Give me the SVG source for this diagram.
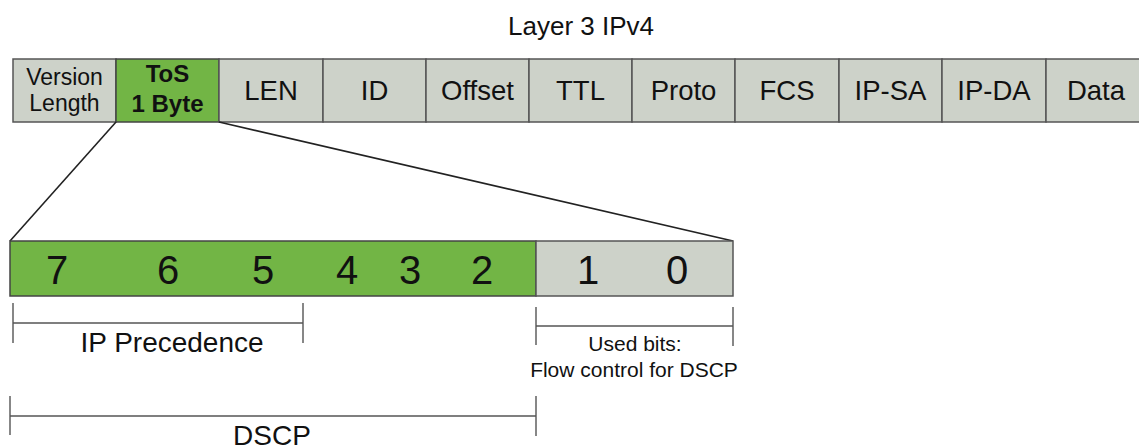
<svg xmlns="http://www.w3.org/2000/svg" width="1139" height="446" viewBox="0 0 1139 446">
<style>
text{font-family:"Liberation Sans",Arial,sans-serif;fill:#111;text-anchor:middle}
.cell{fill:#cdd2c9;stroke:#555;stroke-width:1.5}
.green{fill:#72b545;stroke:#444;stroke-width:1.5}
.f{font-size:27.5px}
.s{font-size:23px}
.b{font-size:24px;font-weight:bold}
.d{font-size:40px}
.ln{stroke:#222;stroke-width:1.6;fill:none}
.br{stroke:#555;stroke-width:1.4;fill:none}
</style>
<rect width="1139" height="446" fill="#fff"/>
<text x="581" y="35" style="font-size:26px">Layer 3 IPv4</text>
<g id="row">
<g id="ver"><rect class="cell" x="13" y="59" width="103" height="63"/><text class="s" x="64.5" y="85">Version</text><text class="s" x="64.5" y="111">Length</text></g>
<g id="tos"><rect class="green" x="116" y="59" width="103" height="63"/><text class="b" x="167.5" y="82">ToS</text><text class="b" x="167.5" y="112">1 Byte</text></g>
<g id="len"><rect class="cell" x="219" y="59" width="104" height="63"/><text class="f" x="271" y="100">LEN</text></g>
<g id="id"><rect class="cell" x="323" y="59" width="103" height="63"/><text class="f" x="374.5" y="100">ID</text></g>
<g id="offset"><rect class="cell" x="426" y="59" width="103" height="63"/><text class="f" x="477.5" y="100">Offset</text></g>
<g id="ttl"><rect class="cell" x="529" y="59" width="103" height="63"/><text class="f" x="580.5" y="100">TTL</text></g>
<g id="proto"><rect class="cell" x="632" y="59" width="103" height="63"/><text class="f" x="683.5" y="100">Proto</text></g>
<g id="fcs"><rect class="cell" x="735" y="59" width="104" height="63"/><text class="f" x="787" y="100">FCS</text></g>
<g id="ipsa"><rect class="cell" x="839" y="59" width="103" height="63"/><text class="f" x="890.5" y="100">IP-SA</text></g>
<g id="ipda"><rect class="cell" x="942" y="59" width="104" height="63"/><text class="f" x="994" y="100">IP-DA</text></g>
<g id="data"><rect class="cell" x="1046" y="59" width="103" height="63"/><text class="f" x="1096" y="100">Data</text></g>
</g>
<g id="connectors">
<line class="ln" x1="116" y1="122" x2="10" y2="241"/>
<line class="ln" x1="219" y1="122" x2="733" y2="241"/>
</g>
<g id="bits">
<rect class="green" x="10" y="241" width="526" height="55"/>
<rect class="cell" x="536" y="241" width="197" height="55"/>
<text class="d" x="57" y="284">7</text>
<text class="d" x="168" y="284">6</text>
<text class="d" x="263" y="284">5</text>
<text class="d" x="347" y="284">4</text>
<text class="d" x="410" y="284">3</text>
<text class="d" x="482" y="284">2</text>
<text class="d" x="588" y="284">1</text>
<text class="d" x="677" y="284">0</text>
</g>
<g id="ipprec">
<path class="br" d="M13 303V343M13 323H303M303 303V343"/>
<text x="172" y="352" style="font-size:28px">IP Precedence</text>
</g>
<g id="used">
<path class="br" d="M536 307V345M536 326H733M733 307V346"/>
<text x="635" y="351" style="font-size:21px">Used bits:</text>
<text x="634" y="377" style="font-size:21px">Flow control for DSCP</text>
</g>
<g id="dscp">
<path class="br" d="M10 396V435M10 416H536M536 396V436"/>
<text x="272" y="445" style="font-size:28px">DSCP</text>
</g>
</svg>
